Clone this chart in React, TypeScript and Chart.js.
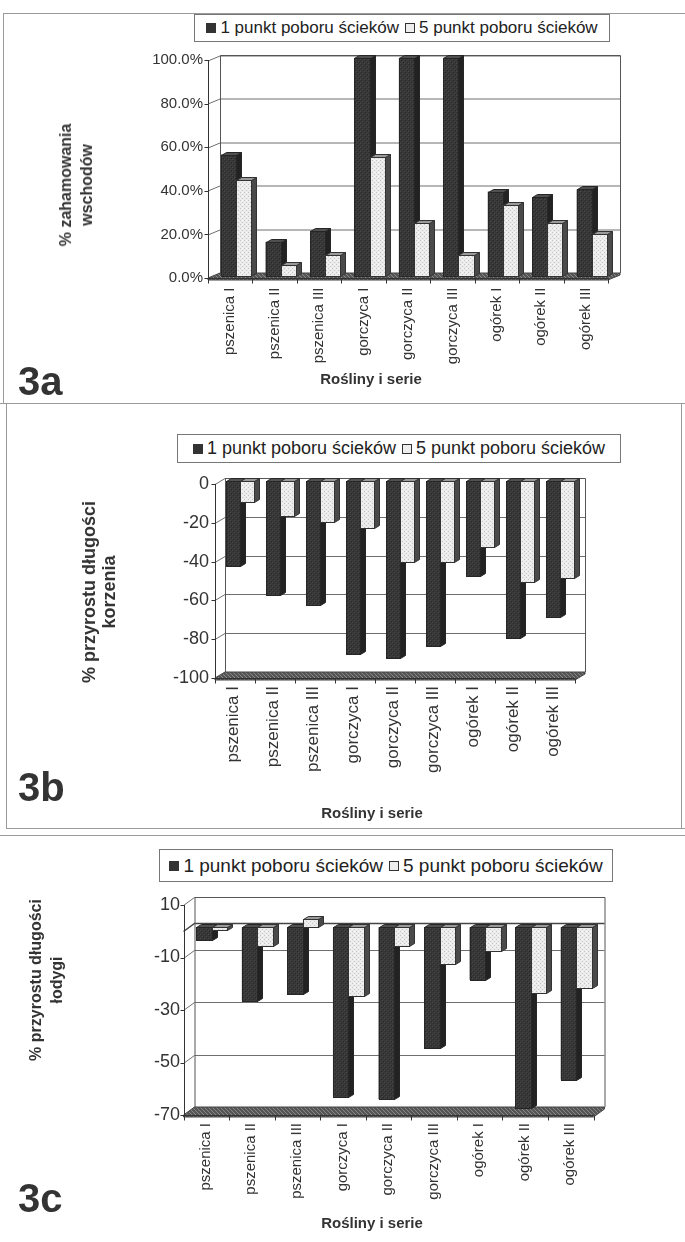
import React, { useEffect, useRef } from "react";
import { Chart, registerables } from "chart.js";

Chart.register(...registerables);

// ---------- data ----------
const categories = [
  "pszenica I", "pszenica II", "pszenica III",
  "gorczyca I", "gorczyca II", "gorczyca III",
  "ogórek I", "ogórek II", "ogórek III",
];
const seriesLabels = ["1 punkt poboru ścieków", "5 punkt poboru ścieków"];

const emergenceSite1 = [55.5, 15.5, 20.5, 100, 100, 100, 38.5, 36, 39.5];
const emergenceSite5 = [44, 5, 9.5, 54.5, 24, 9.5, 32.5, 24, 19];
const emergenceTicks = [0, 20, 40, 60, 80, 100];

const rootSite1 = [-44, -59, -64, -89, -91, -85, -49, -81, -70];
const rootSite5 = [-11, -18, -21, -24, -42, -42, -34, -52, -50];
const rootTicks = [-100, -80, -60, -40, -20, 0];

const stemSite1 = [-5, -28, -25.5, -64.5, -65.5, -46, -20, -69, -58];
const stemSite5 = [-1, -7, 3, -26, -7, -14, -9, -25, -23];
const stemTicks = [-70, -50, -30, -10, 10];

const FONT = "'Liberation Sans', Arial, sans-serif";
const TEXT = "#333";

// ---------- patterns ----------
function makePattern(bg: string, dots: [number, number, string][], size = 4) {
  const c = document.createElement("canvas");
  c.width = size;
  c.height = size;
  const g = c.getContext("2d")!;
  g.fillStyle = bg;
  g.fillRect(0, 0, size, size);
  for (const [x, y, col] of dots) {
    g.fillStyle = col;
    g.fillRect(x, y, 1, 1);
  }
  return g.createPattern(c, "repeat")!;
}

// ---------- 3D plugin ----------
const threeD = {
  id: "threeD",
  beforeDatasetsDraw(chart: any, _a: any, o: any) {
    const { ctx, chartArea } = chart;
    const ys = chart.scales.y;
    const { dx, dy } = o;
    const L = chartArea.left, R = chartArea.right, T = chartArea.top, B = chartArea.bottom;
    ctx.save();
    ctx.lineWidth = 1;
    ctx.strokeStyle = "#6e6e6e";
    for (const t of ys.ticks) {
      if (t.value === ys.min) continue;
      const py = Math.round(ys.getPixelForValue(t.value)) + 0.5;
      ctx.beginPath();
      ctx.moveTo(L - dx, py + dy);
      ctx.lineTo(L + dx, py - dy);
      ctx.lineTo(R + dx, py - dy);
      ctx.stroke();
    }
    if (o.zeroLine) {
      const pz = Math.round(ys.getPixelForValue(0)) + 0.5;
      ctx.strokeStyle = "#444";
      ctx.lineWidth = 1.5;
      ctx.beginPath();
      ctx.moveTo(L - dx, pz + dy);
      ctx.lineTo(L + dx, pz - dy);
      ctx.lineTo(R + dx, pz - dy);
      ctx.stroke();
      ctx.lineWidth = 1;
    }
    // back wall outline
    ctx.strokeStyle = "#555";
    ctx.beginPath();
    ctx.moveTo(R + dx + 0.5, B - dy);
    ctx.lineTo(R + dx + 0.5, T - dy + 0.5);
    ctx.lineTo(L + dx + 0.5, T - dy + 0.5);
    ctx.lineTo(L + dx + 0.5, B - dy);
    ctx.stroke();
    // floor
    ctx.fillStyle = o.floor;
    ctx.beginPath();
    ctx.moveTo(L - dx, B + dy + 2);
    ctx.lineTo(L - dx, B + dy);
    ctx.lineTo(L + dx, B - dy);
    ctx.lineTo(R + dx, B - dy);
    ctx.lineTo(R + dx, B - dy + 2);
    ctx.lineTo(R - dx, B + dy + 2);
    ctx.closePath();
    ctx.fill();
    ctx.strokeStyle = "#444";
    ctx.stroke();
    ctx.restore();
  },
  afterDatasetsDraw(chart: any, _a: any, o: any) {
    const { ctx, chartArea } = chart;
    const { bdx, bdy, dx, dy } = o;
    const n = chart.data.labels.length;
    const poly = (pts: number[][]) => {
      ctx.beginPath();
      ctx.moveTo(pts[0][0], pts[0][1]);
      for (let k = 1; k < pts.length; k++) ctx.lineTo(pts[k][0], pts[k][1]);
      ctx.closePath();
    };
    ctx.save();
    ctx.lineWidth = 1;
    for (let i = 0; i < n; i++) {
      chart.data.datasets.forEach((_ds: any, d: number) => {
        const el = chart.getDatasetMeta(d).data[i];
        const p = el.getProps(["x", "y", "base", "width"], true);
        const l = Math.round(p.x - p.width / 2) + 0.5;
        const r = Math.round(p.x + p.width / 2) + 0.5;
        const t = Math.round(Math.min(p.y, p.base)) + 0.5;
        const b = Math.round(Math.max(p.y, p.base)) + 0.5;
        const st = o.styles[d];
        ctx.strokeStyle = st.edge;
        ctx.fillStyle = st.side;
        poly([[r, t], [r + bdx, t - bdy], [r + bdx, b - bdy], [r, b]]);
        ctx.fill();
        ctx.stroke();
        ctx.fillStyle = st.top;
        poly([[l, t], [l + bdx, t - bdy], [r + bdx, t - bdy], [r, t]]);
        ctx.fill();
        ctx.stroke();
        ctx.fillStyle = st.front;
        ctx.fillRect(l, t, r - l, b - t);
        ctx.strokeRect(l, t, r - l, b - t);
      });
    }
    // front axes
    const xs = chart.scales.x;
    const ys = chart.scales.y;
    const L = chartArea.left, R = chartArea.right, T = chartArea.top, B = chartArea.bottom;
    const fx = Math.round(L - dx) + 0.5;
    const fb = Math.round(B + dy) + 0.5;
    ctx.strokeStyle = "#333";
    ctx.beginPath();
    ctx.moveTo(fx, T + dy);
    ctx.lineTo(fx, fb);
    ctx.lineTo(R - dx, fb);
    ctx.stroke();
    for (const t of ys.ticks) {
      const py = Math.round(ys.getPixelForValue(t.value) + dy) + 0.5;
      ctx.beginPath();
      ctx.moveTo(fx - 4, py);
      ctx.lineTo(fx, py);
      ctx.stroke();
    }
    for (let k = 0; k <= n; k++) {
      const px = Math.round(xs.getPixelForValue(k - 0.5) - dx) + 0.5;
      ctx.beginPath();
      ctx.moveTo(px, fb);
      ctx.lineTo(px, fb + 5);
      ctx.stroke();
    }
    ctx.restore();
  },
};

type PanelCfg = {
  canvasTop: number;
  canvasH: number;
  left: number;
  right: number;
  yTop: number;
  yBottom: number;
  min: number;
  max: number;
  ticks: number[];
  fmt: (v: number) => string;
  dx: number;
  dy: number;
  tickFont: number;
  tickRight: number;
  tickOffset: number;
  catFont: number;
  catPad: number;
  catOffset: number;
  s1: number[];
  s5: number[];
  zeroLine?: boolean;
};

function BarPanel({ cfg }: { cfg: PanelCfg }) {
  const ref = useRef<HTMLCanvasElement>(null);
  useEffect(() => {
    const canvas = ref.current!;
    const light = makePattern("#ececec", [[0, 0, "#c2c2c2"], [2, 2, "#c8c8c8"], [2, 0, "#f9f9f9"]]);
    const dark = makePattern("#383838", [[1, 0, "#262626"], [3, 2, "#262626"], [0, 3, "#474747"], [2, 1, "#474747"]]);
    const floor = makePattern("#555", [[0, 0, "#888"], [1, 1, "#888"], [2, 2, "#888"], [3, 3, "#888"]]);
    const W = 685;
    const H = cfg.canvasH;
    const aTop = cfg.yTop - cfg.canvasTop;
    const aBottom = cfg.yBottom - cfg.canvasTop;
    const chart = new Chart(canvas, {
      type: "bar",
      data: {
        labels: categories,
        datasets: [
          {
            label: seriesLabels[0],
            data: cfg.s1,
            backgroundColor: dark as any,
            borderWidth: 0,
            categoryPercentage: 0.68,
            barPercentage: 1,
          },
          {
            label: seriesLabels[1],
            data: cfg.s5,
            backgroundColor: light as any,
            borderColor: "#333",
            borderWidth: 1,
            categoryPercentage: 0.68,
            barPercentage: 1,
          },
        ],
      },
      options: {
        animation: false,
        responsive: false,
        maintainAspectRatio: false,
        devicePixelRatio: 1,
        layout: { padding: { left: 0, right: W - cfg.right, top: aTop, bottom: 0 } },
        plugins: {
          legend: { display: false },
          tooltip: { enabled: false },
          threeD: {
            dx: cfg.dx,
            dy: cfg.dy,
            bdx: 5,
            bdy: 3,
            floor,
            zeroLine: !!cfg.zeroLine,
            styles: [
              { front: dark, side: "#222", top: "#505050", edge: "#262626" },
              { front: light, side: "#4a4a4a", top: "#9a9a9a", edge: "#333" },
            ],
          },
        } as any,
        scales: {
          x: {
            grid: { display: false, drawTicks: false },
            border: { display: false },
            ticks: {
              autoSkip: false,
              minRotation: 90,
              maxRotation: 90,
              padding: cfg.catPad,
              labelOffset: cfg.catOffset,
              color: TEXT,
              font: { family: FONT, size: cfg.catFont },
            },
            afterFit: (s: any) => {
              s.height = H - aBottom;
            },
          },
          y: {
            min: cfg.min,
            max: cfg.max,
            grid: { display: false, drawTicks: false },
            border: { display: false },
            ticks: {
              padding: cfg.left - cfg.tickRight,
              labelOffset: cfg.tickOffset,
              color: TEXT,
              font: { family: FONT, size: cfg.tickFont },
              callback: (v: any) => cfg.fmt(Number(v)),
            },
            afterBuildTicks: (s: any) => {
              s.ticks = cfg.ticks.map((v) => ({ value: v }));
            },
            afterFit: (s: any) => {
              s.width = cfg.left;
            },
          },
        } as any,
      },
      plugins: [threeD as any],
    });
    return () => chart.destroy();
  }, []);
  return (
    <canvas
      ref={ref}
      width={685}
      height={cfg.canvasH}
      style={{ position: "absolute", left: 0, top: cfg.canvasTop, width: 685, height: cfg.canvasH }}
    />
  );
}

function Legend({ left, top, width, height, size }: any) {
  const sq = { display: "inline-block", width: 10, height: 10, boxSizing: "border-box" as const };
  return (
    <div
      style={{
        position: "absolute",
        left,
        top,
        width,
        height,
        boxSizing: "border-box",
        border: "1px solid #777",
        background: "#fff",
        display: "flex",
        alignItems: "center",
        justifyContent: "center",
        font: `${size}px ${FONT}`,
        color: "#222",
        whiteSpace: "nowrap",
      }}
    >
      <span style={{ ...sq, background: "#333", marginRight: 4 }} />
      <span>{seriesLabels[0]}</span>
      <span style={{ ...sq, background: "#eee", border: "1.5px solid #333", marginLeft: 6, marginRight: 4 }} />
      <span>{seriesLabels[1]}</span>
    </div>
  );
}

function YTitle({ cx, cy, size, lh, lines }: any) {
  return (
    <div
      style={{
        position: "absolute",
        left: cx,
        top: cy,
        transform: "translate(-50%, -50%) rotate(-90deg)",
        whiteSpace: "nowrap",
        textAlign: "center",
        font: `bold ${size}px ${FONT}`,
        lineHeight: `${lh}px`,
        color: TEXT,
      }}
    >
      {lines[0]}
      <br />
      {lines[1]}
    </div>
  );
}

function Centered({ cx, cy, size, text }: any) {
  return (
    <div
      style={{
        position: "absolute",
        left: cx,
        top: cy,
        transform: "translate(-50%, -50%)",
        whiteSpace: "nowrap",
        font: `bold ${size}px ${FONT}`,
        color: TEXT,
      }}
    >
      {text}
    </div>
  );
}

function PanelTag({ left, cy, text }: any) {
  return (
    <div
      style={{
        position: "absolute",
        left,
        top: cy,
        transform: "translateY(-50%)",
        font: `bold 40px ${FONT}`,
        color: TEXT,
        lineHeight: "40px",
      }}
    >
      {text}
    </div>
  );
}

function Line({ x, y, w, h }: any) {
  return <div style={{ position: "absolute", left: x, top: y, width: w, height: h, background: "#9a9a9a" }} />;
}

const panelA: PanelCfg = {
  canvasTop: 0, canvasH: 403, left: 214, right: 614, yTop: 57.5, yBottom: 275.5,
  min: 0, max: 100, ticks: emergenceTicks, fmt: (v) => v.toFixed(1) + "%",
  dx: 6, dy: 2.5, tickFont: 15, tickRight: 203, tickOffset: 2.5,
  catFont: 15, catPad: 12, catOffset: -6, s1: emergenceSite1, s5: emergenceSite5,
};
const panelB: PanelCfg = {
  canvasTop: 403, canvasH: 425, left: 220, right: 580, yTop: 481, yBottom: 675,
  min: -100, max: 0, ticks: rootTicks, fmt: (v) => String(v),
  dx: 5, dy: 3, tickFont: 18, tickRight: 209, tickOffset: 3,
  catFont: 17, catPad: 11, catOffset: -7, s1: rootSite1, s5: rootSite5,
};
const panelC: PanelCfg = {
  canvasTop: 835, canvasH: 407, left: 189, right: 599, yTop: 901, yBottom: 1111,
  min: -70, max: 10, ticks: stemTicks, fmt: (v) => String(v),
  dx: 5.5, dy: 4, tickFont: 18, tickRight: 180, tickOffset: 4,
  catFont: 15, catPad: 12, catOffset: -6, s1: stemSite1, s5: stemSite5, zeroLine: true,
};

export default function App() {
  return (
    <div
      style={{
        position: "absolute",
        left: 0,
        top: 0,
        width: 685,
        height: 1242,
        background: "#fff",
        overflow: "hidden",
        fontFamily: FONT,
      }}
    >
      {/* panel frames */}
      <Line x={3} y={13} w={682} h={1} />
      <Line x={3} y={13} w={1} h={390} />
      <Line x={0} y={403} w={685} h={1} />
      <Line x={6} y={403} w={1} h={425} />
      <Line x={681} y={403} w={1} h={425} />
      <Line x={6} y={828} w={679} h={1} />
      <Line x={0} y={835} w={685} h={1} />

      <BarPanel cfg={panelA} />
      <BarPanel cfg={panelB} />
      <BarPanel cfg={panelC} />

      <Legend left={194} top={14} width={416} height={28} size={17} />
      <Legend left={177} top={434} width={444} height={29} size={18} />
      <Legend left={159} top={849} width={454} height={33} size={19} />

      <YTitle cx={76} cy={185} size={16} lh={21} lines={["% zahamowania", "wschodów"]} />
      <YTitle cx={99} cy={592} size={18} lh={20} lines={["% przyrostu długości", "korzenia"]} />
      <YTitle cx={46} cy={980} size={16} lh={21} lines={["% przyrostu długości", "łodygi"]} />

      <Centered cx={371} cy={378} size={15} text="Rośliny i serie" />
      <Centered cx={372} cy={812} size={15} text="Rośliny i serie" />
      <Centered cx={372} cy={1222} size={15} text="Rośliny i serie" />

      <PanelTag left={18} cy={381} text="3a" />
      <PanelTag left={18} cy={787} text="3b" />
      <PanelTag left={18} cy={1198} text="3c" />
    </div>
  );
}
